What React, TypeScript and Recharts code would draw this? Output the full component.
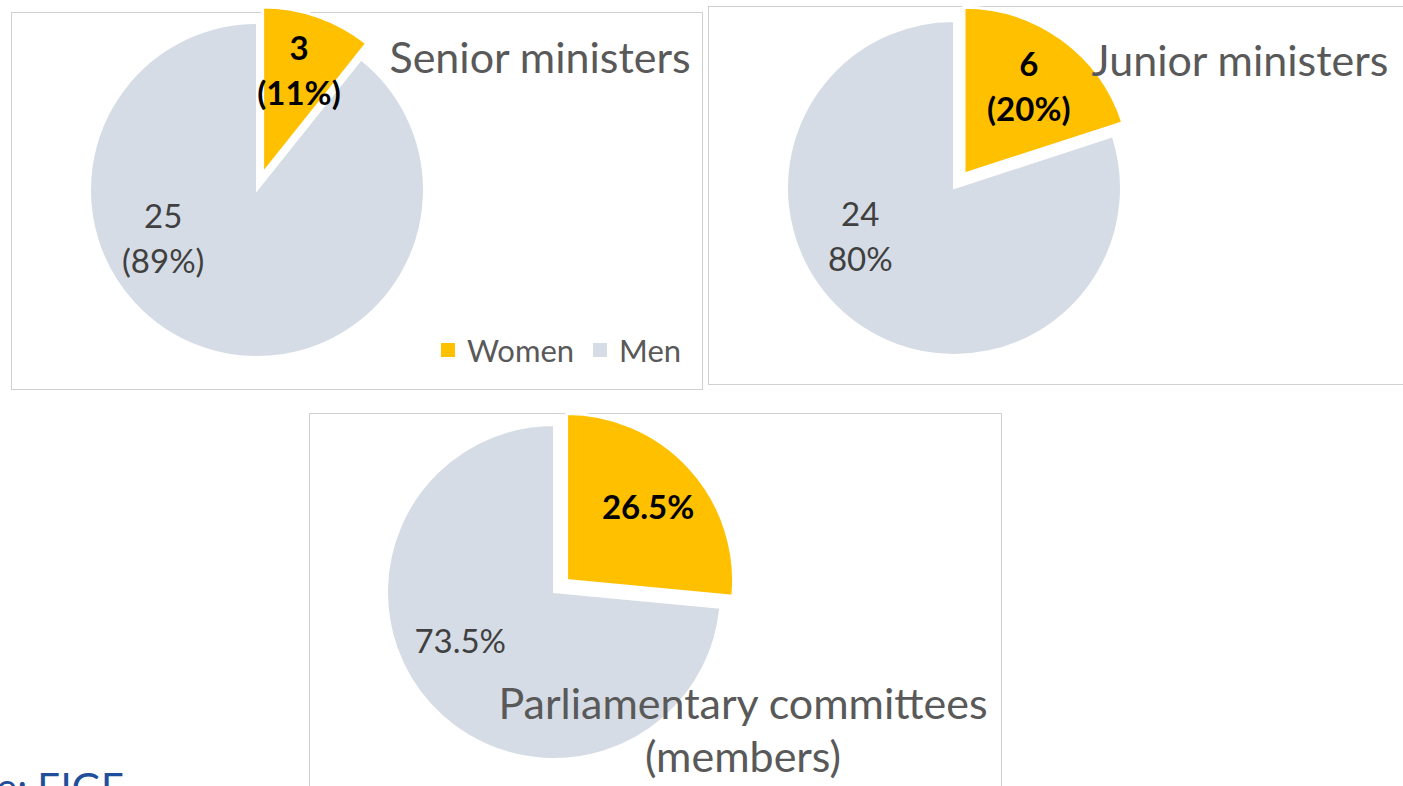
import React from "react"
import { PieChart, Pie, Cell, Legend } from "recharts"

// Women / men split in three bodies
const categories = ["Women", "Men"]
const seniorValues = [3, 25]
const juniorValues = [6, 24]
const committeeValues = [26.5, 73.5]

const colors = ["#FFC000", "#D6DCE5"]
const FONT = "Lato, 'Open Sans', sans-serif"
const R = 167
const EXPLODE = 17

type Fmt = (value: number, pct: number, index: number) => string[]

const countAndPct: Fmt = (v, p) => [String(v), `(${Math.round(p * 100)}%)`]
const juniorFmt: Fmt = (v, p, i) =>
  i === 0 ? [String(v), `(${Math.round(p * 100)}%)`] : [String(v), `${Math.round(p * 100)}%`]
const shareOnly: Fmt = (v) => [`${v}%`]

const toData = (values: number[]) => values.map((value, i) => ({ name: categories[i], value }))

const pies = [
  { id: "senior", values: seniorValues, cx: 257, cy: 190, fmt: countAndPct },
  { id: "junior", values: juniorValues, cx: 954, cy: 188, fmt: juniorFmt },
  { id: "committee", values: committeeValues, cx: 554, cy: 592, fmt: shareOnly },
]

const makeLabel = (fmt: Fmt, values: number[], show: number) => (props: any) => {
  const { cx, cy, midAngle, outerRadius, index, value } = props
  if (index !== show) return <g />
  const total = values.reduce((a, b) => a + b, 0)
  const lines = fmt(value, value / total, index)
  // women label sits on the slice bisector, men label lower-left like the original
  const angle = index === 0 ? midAngle : 207
  const rad = (angle * Math.PI) / 180
  const dist = outerRadius * (index === 0 ? 0.66 : 0.63)
  const x = cx + dist * Math.cos(rad)
  const y = cy - dist * Math.sin(rad)
  const lh = 45
  const start = -((lines.length - 1) * lh) / 2
  return (
    <text
      x={x}
      y={y}
      textAnchor="middle"
      dominantBaseline="central"
      fontFamily={FONT}
      fontSize={33}
      fontWeight={index === 0 ? 700 : 400}
      fill={index === 0 ? "#000000" : "#404040"}
    >
      {lines.map((l, k) => (
        <tspan key={k} x={x} dy={k === 0 ? start : lh}>
          {l}
        </tspan>
      ))}
    </text>
  )
}

const LegendContent = () => (
  <div style={{ display: "flex", alignItems: "center", fontFamily: FONT, fontSize: 31, color: "#595959" }}>
    {categories.map((c, i) => (
      <span key={c} style={{ display: "flex", alignItems: "center", marginRight: i === 0 ? 19 : 0 }}>
        <span style={{ width: 14, height: 14, background: colors[i], marginRight: 12, display: "inline-block" }} />
        {c}
      </span>
    ))}
  </div>
)

const boxes = [
  { left: 11, top: 12, width: 692, height: 378 },
  { left: 708, top: 6, width: 700, height: 379 },
  { left: 309, top: 413, width: 693, height: 400 },
]

const titles = [
  { text: "Senior ministers", x: 540, y: 56 },
  { text: "Junior ministers", x: 1240, y: 59 },
  { text: "Parliamentary committees", x: 743, y: 702 },
  { text: "(members)", x: 743, y: 755 },
]

export default function App() {
  return (
    <div style={{ position: "absolute", left: 0, top: 0, width: 1403, height: 786, overflow: "hidden", background: "#fff" }}>
      {boxes.map((b, i) => (
        <div
          key={i}
          style={{
            position: "absolute",
            left: b.left,
            top: b.top,
            width: b.width,
            height: b.height,
            border: "1px solid #d0d0d0",
            boxSizing: "border-box",
          }}
        />
      ))}
      <div style={{ position: "absolute", left: 0, top: 0 }}>
        <PieChart width={1403} height={786} margin={{ top: 0, right: 0, bottom: 0, left: 0 }}>
          {pies.map((p) => {
            const data = toData(p.values)
            const total = p.values.reduce((a, b) => a + b, 0)
            const mid = (p.values[0] / total) * Math.PI
            const ex = p.cx + EXPLODE * Math.sin(mid)
            const ey = p.cy - EXPLODE * Math.cos(mid)
            return [
              <Pie
                key={p.id + "-men"}
                data={data}
                dataKey="value"
                cx={p.cx}
                cy={p.cy}
                outerRadius={R}
                startAngle={90}
                endAngle={-270}
                isAnimationActive={false}
                labelLine={false}
                label={makeLabel(p.fmt, p.values, 1)}
              >
                {data.map((d, i) => (
                  <Cell
                    key={d.name}
                    fill={i === 1 ? colors[1] : "transparent"}
                    stroke={i === 1 ? "#ffffff" : "none"}
                    strokeWidth={2}
                  />
                ))}
              </Pie>,
              <Pie
                key={p.id + "-women"}
                data={data}
                dataKey="value"
                cx={ex}
                cy={ey}
                outerRadius={R}
                startAngle={90}
                endAngle={-270}
                isAnimationActive={false}
                labelLine={false}
                label={makeLabel(p.fmt, p.values, 0)}
              >
                {data.map((d, i) => (
                  <Cell
                    key={d.name}
                    fill={i === 0 ? colors[0] : "transparent"}
                    stroke={i === 0 ? "#ffffff" : "none"}
                    strokeWidth={3}
                  />
                ))}
              </Pie>,
            ]
          })}
          <Legend
            content={LegendContent}
            wrapperStyle={{ position: "absolute", left: 441, top: 331, width: "auto", bottom: "auto" }}
          />
        </PieChart>
      </div>
      {titles.map((t) => (
        <div
          key={t.text}
          style={{
            position: "absolute",
            left: t.x,
            top: t.y,
            transform: "translate(-50%, -50%)",
            whiteSpace: "nowrap",
            fontFamily: FONT,
            fontSize: 43,
            color: "#595959",
            lineHeight: 1,
          }}
        >
          {t.text}
        </div>
      ))}
      <div
        style={{
          position: "absolute",
          left: -200,
          top: 763,
          width: 324,
          textAlign: "right",
          fontFamily: FONT,
          fontSize: 40,
          color: "#1F4E9A",
          whiteSpace: "nowrap",
        }}
      >
        Source: EIGE
      </div>
    </div>
  )
}
